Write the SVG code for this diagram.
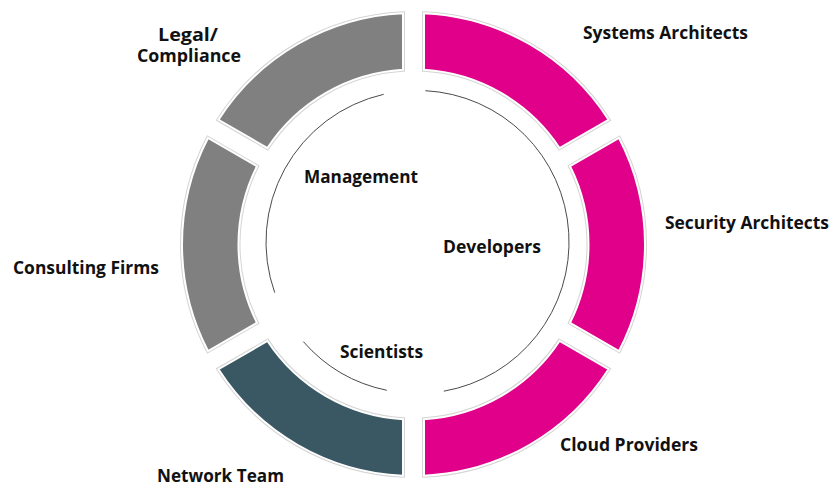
<svg xmlns="http://www.w3.org/2000/svg" xmlns:xlink="http://www.w3.org/1999/xlink" width="833" height="486" viewBox="0 0 833 486">
  <style>
    .halo { fill: none; stroke: #d4d4d4; stroke-width: 4; stroke-linejoin: miter; }
    .seg { stroke: #ffffff; stroke-width: 2; stroke-linejoin: miter; }
    .pink { fill: #E0008A; }
    .gray { fill: #808080; }
    .teal { fill: #3A5864; }
    .arc { fill: none; stroke: #4a4a4a; stroke-width: 1; }
    .lbl { font-family: "Open Sans", "Liberation Sans", sans-serif; font-weight: 700; font-size: 17px; fill: #111111; }
  </style>
  <defs>
    <path id="p-systems" d="M 424 13.24 A 231.5 231.5 0 0 1 608.53 119.76 L 559.53 148.06 A 175 175 0 0 0 424 69.81 Z"/>
    <path id="p-security" d="M 619.03 137.96 A 231.5 231.5 0 0 1 619.03 351.04 L 570.04 322.75 A 175 175 0 0 0 570.04 166.25 Z"/>
    <path id="p-cloud" d="M 608.53 369.24 A 231.5 231.5 0 0 1 424 475.76 L 424 419.19 A 175 175 0 0 0 559.53 340.94 Z"/>
    <path id="p-network" d="M 403 475.76 A 231.5 231.5 0 0 1 218.47 369.24 L 267.47 340.94 A 175 175 0 0 0 403 419.19 Z"/>
    <path id="p-consulting" d="M 207.97 351.04 A 231.5 231.5 0 0 1 207.97 137.96 L 256.96 166.25 A 175 175 0 0 0 256.96 322.75 Z"/>
    <path id="p-legal" d="M 218.47 119.76 A 231.5 231.5 0 0 1 403 13.24 L 403 69.81 A 175 175 0 0 0 267.47 148.06 Z"/>
  </defs>
  <rect x="0" y="0" width="833" height="486" fill="#ffffff"/>

  <g id="connectors">
    <path class="arc" d="M 383.7 94.3 A 151.5 151.5 0 0 0 274.7 292.6"/>
    <path class="arc" d="M 425.4 90.7 A 151.5 151.5 0 0 1 443.8 391.2"/>
    <path class="arc" d="M 303.3 341.6 A 151.5 151.5 0 0 0 386.8 390.3"/>
  </g>

  <g id="node-systems-architects">
    <use xlink:href="#p-systems" href="#p-systems" class="halo"/>
    <use xlink:href="#p-systems" href="#p-systems" class="seg pink"/>
    <text class="lbl" x="583" y="39" textLength="165" lengthAdjust="spacingAndGlyphs">Systems Architects</text>
  </g>
  <g id="node-security-architects">
    <use xlink:href="#p-security" href="#p-security" class="halo"/>
    <use xlink:href="#p-security" href="#p-security" class="seg pink"/>
    <text class="lbl" x="665" y="229" textLength="164" lengthAdjust="spacingAndGlyphs">Security Architects</text>
  </g>
  <g id="node-cloud-providers">
    <use xlink:href="#p-cloud" href="#p-cloud" class="halo"/>
    <use xlink:href="#p-cloud" href="#p-cloud" class="seg pink"/>
    <text class="lbl" x="560" y="451" textLength="138" lengthAdjust="spacingAndGlyphs">Cloud Providers</text>
  </g>
  <g id="node-network-team">
    <use xlink:href="#p-network" href="#p-network" class="halo"/>
    <use xlink:href="#p-network" href="#p-network" class="seg teal"/>
    <text class="lbl" x="157" y="482" textLength="127" lengthAdjust="spacingAndGlyphs">Network Team</text>
  </g>
  <g id="node-consulting-firms">
    <use xlink:href="#p-consulting" href="#p-consulting" class="halo"/>
    <use xlink:href="#p-consulting" href="#p-consulting" class="seg gray"/>
    <text class="lbl" x="13" y="274" textLength="146" lengthAdjust="spacingAndGlyphs">Consulting Firms</text>
  </g>
  <g id="node-legal-compliance">
    <use xlink:href="#p-legal" href="#p-legal" class="halo"/>
    <use xlink:href="#p-legal" href="#p-legal" class="seg gray"/>
    <text class="lbl" x="158" y="41" textLength="60" lengthAdjust="spacingAndGlyphs">Legal/</text>
    <text class="lbl" x="137" y="62" textLength="104" lengthAdjust="spacingAndGlyphs">Compliance</text>
  </g>

  <g id="node-management">
    <text class="lbl" x="304" y="183" textLength="114" lengthAdjust="spacingAndGlyphs">Management</text>
  </g>
  <g id="node-developers">
    <text class="lbl" x="443" y="253" textLength="98" lengthAdjust="spacingAndGlyphs">Developers</text>
  </g>
  <g id="node-scientists">
    <text class="lbl" x="340" y="358" textLength="83" lengthAdjust="spacingAndGlyphs">Scientists</text>
  </g>
</svg>
